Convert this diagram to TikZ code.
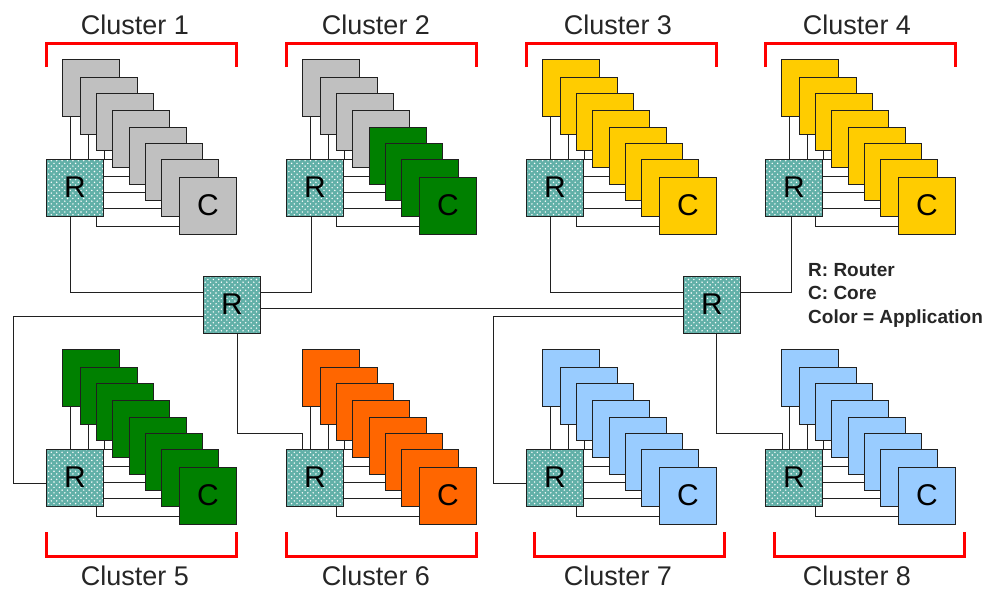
\documentclass[tikz,border=0pt]{standalone}
\usepackage{fontspec}
\setmainfont{Liberation Sans}
\usetikzlibrary{patterns}
\definecolor{routerteal}{HTML}{62B0A8}
\definecolor{coregray}{HTML}{C0C0C0}
\definecolor{coregreen}{HTML}{008000}
\definecolor{coreyellow}{HTML}{FFCC00}
\definecolor{coreorange}{HTML}{FF6600}
\definecolor{coreblue}{HTML}{99CCFF}
\definecolor{edgegray}{HTML}{202020}
\pgfdeclarepatternformonly{routerdots}{\pgfqpoint{-2pt}{-2pt}}{\pgfqpoint{6pt}{6pt}}{\pgfqpoint{5.4pt}{5.4pt}}{
  \pgfpathcircle{\pgfqpoint{0pt}{0pt}}{0.8pt}
  \pgfpathcircle{\pgfqpoint{2.7pt}{2.7pt}}{0.8pt}
  \pgfusepath{fill}
}
\tikzset{
  router/.style={rectangle, draw=edgegray, line width=1pt, preaction={fill=routerteal}, pattern=routerdots, pattern color=white, minimum size=57.5pt, inner sep=0pt, outer sep=0pt, font=\fontsize{30}{30}\selectfont},
  core/.style={rectangle, draw=edgegray, line width=1pt, minimum size=57.5pt, inner sep=0pt, outer sep=0pt, font=\fontsize{30}{30}\selectfont},
  wire/.style={draw=edgegray, line width=1pt},
  bracket/.style={draw=red, line width=3pt},
  clusterlabel/.style={font=\fontsize{27}{27}\selectfont, text=black!85, inner sep=0pt},
  legend/.style={font=\fontsize{19}{23.5}\selectfont\bfseries, align=left, inner sep=0pt, text=black!85}
}
\begin{document}
\begin{tikzpicture}[x=1pt,y=-1pt]
  \useasboundingbox (0,0) rectangle (986,590);
  % one router and eight cores per cluster
  \foreach \n/\px/\py/\cola/\colb in {1/75/188/coregray/coregray, 2/315/188/coregray/coregreen, 3/555/188/coreyellow/coreyellow, 4/794/188/coreyellow/coreyellow, 5/75/478/coregreen/coregreen, 6/315/478/coreorange/coreorange, 7/555/478/coreblue/coreblue, 8/794/478/coreblue/coreblue} {
    \node[router] (R\n) at (\px,\py) {\raisebox{1pt}{R}};
    \foreach \i/\dx/\dy/\txt in {1/16/-100/{}, 2/34/-82/{}, 3/50/-66/{}, 4/66/-49/{}, 5/83/-32/{}, 6/99/-16/{}, 7/115/0/{}, 8/133/18/\raisebox{2pt}{C}\hspace{2pt}} {
      \edef\colc{\ifnum\i>4 \colb\else\cola\fi}
      \node[core, fill=\colc] (C\n-\i) at (\px+\dx,\py+\dy) {\txt};
    }
    \foreach \i in {1,2,3}
      \draw[wire] ([xshift=-21pt]C\n-\i.south) -- ([xshift=-21pt]C\n-\i.south |- R\n.north);
    \draw[wire] (R\n.north east) -- (R\n.north east -| C\n-4.west);
    \foreach \i/\s in {5/12,6/-4,7/-20}
      \draw[wire] ([yshift=\s pt]R\n.east) -- ([yshift=\s pt]R\n.east -| C\n-\i.west);
    \draw[wire] ([yshift=-20pt]C\n-8.west) -| ([xshift=21pt]R\n.south);
  }
  % the two central routers
  \node[router] (RA) at (232,305) {\raisebox{1pt}{R}};
  \node[router] (RB) at (712,305) {\raisebox{1pt}{R}};
  \draw[wire] ([xshift=-5pt]R1.south) |- ([yshift=13pt]RA.west);
  \draw[wire] ([xshift=-4pt]R2.south) |- ([yshift=13pt]RA.east);
  \draw[wire] ([xshift=-5pt]R3.south) |- ([yshift=13pt]RB.west);
  \draw[wire] ([xshift=-3pt]R4.south) |- ([yshift=13pt]RB.east);
  \draw[wire] ([yshift=-3pt]RA.east) -- ([yshift=-3pt]RB.west);
  \draw[wire] ([yshift=-11pt]RA.west) -| (13,483) -- ([yshift=-5pt]R5.west);
  \draw[wire] ([yshift=-11pt]RB.west) -| (493,483) -- ([yshift=-5pt]R7.west);
  \draw[wire] ([xshift=5pt]RA.south) |- (302.5,433) -- (302.5,433 |- R6.north);
  \draw[wire] ([xshift=4pt]RB.south) |- (782.5,433) -- (782.5,433 |- R8.north);
  % labels and brackets
  \foreach \n/\lx/\ly/\bx/\bfoot/\bend in {1/135/25/46/67/43, 2/376/25/286/67/43, 3/618/25/526/67/43, 4/857/25/765/67/43, 5/135/576/46/532/556, 6/376/576/286/532/556, 7/618/576/534/532/556, 8/857/576/774/532/556} {
    \node[clusterlabel] (L\n) at (\lx,\ly) {Cluster \n};
    \draw[bracket] (\bx,\bfoot) |- (\bx+190,\bend) -- (\bx+190,\bfoot);
  }
  \node[legend, anchor=north west] (key) at (808,263) {R: Router\\C: Core\\Color = Application};
\end{tikzpicture}
\end{document}
